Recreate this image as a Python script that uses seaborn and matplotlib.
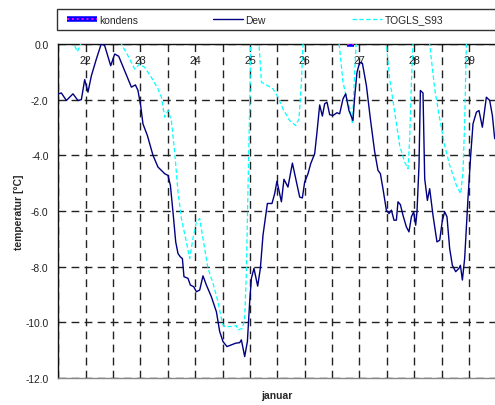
import numpy as np
import pandas as pd
import matplotlib
matplotlib.use("Agg")
import matplotlib.pyplot as plt
from matplotlib.lines import Line2D
from matplotlib.patches import Rectangle
from matplotlib.legend_handler import HandlerTuple
import seaborn as sns

# ---------------- data ----------------
dew_day = [21.500, 21.556, 21.648, 21.768, 21.859, 21.921, 21.982, 22.042, 22.104, 22.195,
           22.287, 22.347, 22.457, 22.530, 22.603, 22.712, 22.835, 22.908, 22.955, 23.004,
           23.046, 23.127, 23.229, 23.320, 23.443, 23.503, 23.547, 23.594, 23.644, 23.686,
           23.729, 23.766, 23.795, 23.868, 23.912, 23.972, 24.022, 24.082, 24.142, 24.204,
           24.295, 24.387, 24.447, 24.507, 24.580, 24.661, 24.739, 24.812, 24.843, 24.904,
           24.953, 24.995, 25.026, 25.073, 25.141, 25.190, 25.238, 25.318, 25.402, 25.451,
           25.493, 25.574, 25.621, 25.694, 25.775, 25.848, 25.908, 25.957, 25.999, 26.060,
           26.109, 26.182, 26.224, 26.273, 26.322, 26.364, 26.407, 26.456, 26.516, 26.589,
           26.638, 26.699, 26.748, 26.808, 26.881, 26.912, 26.954, 27.004, 27.053, 27.126,
           27.199, 27.278, 27.338, 27.382, 27.429, 27.491, 27.539, 27.583, 27.630, 27.674,
           27.703, 27.747, 27.794, 27.856, 27.904, 27.948, 27.990, 28.026, 28.050, 28.087,
           28.112, 28.160, 28.191, 28.240, 28.282, 28.342, 28.415, 28.465, 28.514, 28.556,
           28.598, 28.647, 28.696, 28.757, 28.817, 28.843, 28.879, 28.921, 28.981, 29.031,
           29.073, 29.135, 29.182, 29.244, 29.317, 29.378, 29.427, 29.469]
dew_val = [-1.79, -1.76, -2.03, -1.79, -2.03, -2.00, -1.28, -1.73, -1.14, -0.54,
           0.02, -0.06, -0.78, -0.36, -0.44, -0.96, -1.55, -1.47, -1.67, -2.21,
           -2.87, -3.29, -4.00, -4.42, -4.66, -4.72, -5.08, -6.03, -7.11, -7.53,
           -7.65, -7.71, -8.36, -8.42, -8.66, -8.72, -8.90, -8.84, -8.33, -8.66,
           -9.08, -9.62, -10.33, -10.69, -10.87, -10.81, -10.75, -10.73, -10.63, -11.23,
           -10.69, -9.26, -8.42, -8.06, -8.70, -8.06, -6.87, -5.73, -5.73, -5.38,
           -4.93, -5.67, -4.86, -5.14, -4.28, -4.96, -5.50, -5.53, -4.96, -4.66,
           -4.30, -3.94, -3.17, -2.19, -2.59, -2.15, -2.09, -2.54, -2.57, -2.47,
           -2.51, -1.97, -1.79, -2.39, -2.75, -1.91, -1.02, -0.66, -0.69, -1.49,
           -2.69, -3.88, -4.54, -4.66, -5.20, -5.97, -6.09, -5.97, -6.33, -6.33,
           -5.67, -5.77, -6.15, -6.57, -6.75, -6.21, -6.03, -6.51, -6.03, -4.36,
           -1.67, -1.76, -4.84, -5.62, -5.20, -6.15, -7.11, -7.05, -6.33, -6.03,
           -6.21, -7.35, -7.95, -8.18, -8.06, -7.95, -8.48, -7.70, -5.56, -4.00,
           -2.87, -2.45, -2.39, -2.99, -1.91, -2.03, -2.57, -3.40]

togls_day = [21.500, 21.744, 21.786, 21.848, 21.909, 21.963, 22.256, 22.584, 22.652, 22.772,
             22.895, 22.986, 23.077, 23.200, 23.320, 23.382, 23.443, 23.503, 23.565, 23.625,
             23.686, 23.748, 23.826, 23.899, 23.959, 24.022, 24.082, 24.142, 24.233, 24.325,
             24.416, 24.496, 24.538, 24.661, 24.752, 24.781, 24.862, 24.904, 24.935, 24.964,
             24.995, 25.013, 25.068, 25.123, 25.165, 25.209, 25.300, 25.420, 25.512, 25.603,
             25.725, 25.835, 25.895, 25.939, 25.968, 26.018, 26.565, 26.629, 26.699, 26.761,
             26.821, 26.872, 26.912, 26.940, 26.985, 27.442, 27.491, 27.551, 27.643, 27.734,
             27.825, 27.886, 27.917, 27.948, 27.977, 28.026, 28.227, 28.282, 28.373, 28.465,
             28.556, 28.647, 28.770, 28.848, 28.890, 28.921, 28.952, 29.012, 29.469]
togls_val = [1.0, 0.3, 0.0, -0.28, 0.0, 0.3, 1.0, 0.4, 0.0, -0.42,
             -0.90, -0.72, -0.84, -1.20, -1.61, -1.90, -2.63, -2.39, -2.75, -3.88,
             -5.32, -6.27, -6.99, -7.71, -6.99, -6.39, -6.27, -6.99, -8.06, -8.60,
             -9.26, -10.04, -10.15, -10.15, -10.12, -10.27, -10.22, -9.86, -8.18, -5.20,
             -2.21, 0.0, 0.8, 0.5, 0.0, -1.37, -1.47, -1.61, -1.91, -2.33,
             -2.75, -2.93, -2.69, -1.37, 0.0, 1.0, 1.0, 0.0, -1.37, -1.91,
             -2.30, -2.87, -1.00, 0.0, 0.8, 0.8, 0.0, -1.25, -2.45, -3.65,
             -4.24, -4.48, -3.40, -1.37, 0.0, 0.8, 0.8, 0.0, -1.61, -2.69,
             -3.65, -4.36, -5.08, -5.38, -4.60, -2.81, 0.0, 0.8, 1.0]

kondens_day = [26.78, 26.82, 26.86, 26.90]
kondens_val = [0.0, 0.0, 0.0, 0.0]

day_ticks = [22, 23, 24, 25, 26, 27, 28, 29]
day_labels = ["22", "23", "24", "25", "26", "27", "28", "29"]
y_ticks = [0, -2, -4, -6, -8, -10, -12]
y_labels = ["0.0", "-2.0", "-4.0", "-6.0", "-8.0", "-10.0", "-12.0"]
series_names = ["kondens", "Dew", "TOGLS_S93"]

# ---------------- style ----------------
sns.set_style("white")
plt.rcParams["font.family"] = ["Liberation Sans", "DejaVu Sans"]
FS = 7.4

W, H = 495, 406
fig = plt.figure(figsize=(W / 100, H / 100), dpi=100)
ax_left, ax_right, ax_top, ax_bot = 58.3, 495.0, 45.0, 379.0
ax = fig.add_axes([ax_left / W, 1 - ax_bot / H, (ax_right - ax_left) / W, (ax_bot - ax_top) / H])

dew_df = pd.DataFrame({"day": dew_day, "val": dew_val})
tog_df = pd.DataFrame({"day": togls_day, "val": togls_val})
kon_df = pd.DataFrame({"day": kondens_day, "val": kondens_val})

DEW_C, TOG_C, KB_C, KM_C = "#000080", "#00FFFF", "#0000FF", "#FF00FF"

sns.lineplot(data=tog_df, x="day", y="val", ax=ax, color=TOG_C, lw=0.9,
             estimator=None, sort=False, zorder=3)
ax.lines[-1].set_dashes((3.5, 2.0))
sns.lineplot(data=dew_df, x="day", y="val", ax=ax, color=DEW_C, lw=1.0,
             estimator=None, sort=False, zorder=4)
sns.lineplot(data=kon_df, x="day", y="val", ax=ax, color=KB_C, lw=4,
             estimator=None, sort=False, zorder=5)
ax.lines[-1].set_solid_capstyle("butt")
sns.lineplot(data=kon_df, x="day", y="val", ax=ax, color=KM_C, lw=1.4,
             estimator=None, sort=False, zorder=6)
ax.lines[-1].set_linestyle((0, (1, 1.5)))
ax.lines[-1].set_dash_capstyle("butt")

ax.set_xlim(21.5, 21.5 + (ax_right - ax_left) / 54.76)
ax.set_ylim(-12, 0)

# y axis
ax.set_yticks(y_ticks)
ax.set_yticklabels(y_labels, fontsize=FS, color="#222222")
ax.tick_params(axis="y", direction="out", length=5, width=0.8, color="#222222", pad=2)

# x axis: day labels inside on top, grid every half day
ax.set_xticks(day_ticks)
ax.set_xticks([d - 0.5 for d in day_ticks], minor=True)
ax.set_xticklabels(day_labels, fontsize=FS + 0.3, color="#222222")
ax.tick_params(axis="x", which="both", top=True, bottom=False, labeltop=True,
               labelbottom=False, length=0, pad=-15)

GRID = dict(color="#222222", lw=1.0, ls=(0, (5.6, 3.8)))
ax.grid(True, axis="both", which="major", **GRID)
ax.grid(True, axis="x", which="minor", **GRID)
ax.set_axisbelow(True)

for s in ["left", "top"]:
    ax.spines[s].set_color("#111111")
    ax.spines[s].set_linewidth(1.0)
ax.spines["bottom"].set_color("#888888")
ax.spines["bottom"].set_linewidth(1.0)
ax.spines["right"].set_visible(False)

ax.set_xlabel("januar", fontsize=FS, fontweight="bold")
ax.xaxis.set_label_position("bottom")
ax.xaxis.labelpad = 9
ax.set_ylabel("temperatur [°C]", fontsize=FS, fontweight="bold")
ax.yaxis.set_label_coords((24.5 - ax_left) / (ax_right - ax_left), 0.5)

# legend: a framed strip with three entries
fig.patches.append(Rectangle((57 / W, 1 - 31 / H), (510 - 57) / W, 21 / H,
                             transform=fig.transFigure, fill=True, facecolor="white",
                             edgecolor="#333333", lw=1.0, zorder=0))
h_kon = (Line2D([], [], color=KB_C, lw=4, solid_capstyle="butt"),
         Line2D([], [], color=KM_C, lw=1.4, ls=(0, (1, 1.5)), dash_capstyle="butt"))
h_dew = Line2D([], [], color=DEW_C, lw=1.0)
h_tog = Line2D([], [], color=TOG_C, lw=0.9, dashes=(3.5, 2.0))
entry_x = [67, 213, 352]
for h, name, x0 in zip([h_kon, h_dew, h_tog], series_names, entry_x):
    lg = fig.legend([h], [name], handler_map={tuple: HandlerTuple(ndivide=1, pad=0)},
                    loc="center left", bbox_to_anchor=(x0 / W, 1 - 20.5 / H),
                    borderaxespad=0, borderpad=0, frameon=False, fontsize=FS,
                    handlelength=2.9, handletextpad=0.25)

fig.savefig("out.png", dpi=100)
